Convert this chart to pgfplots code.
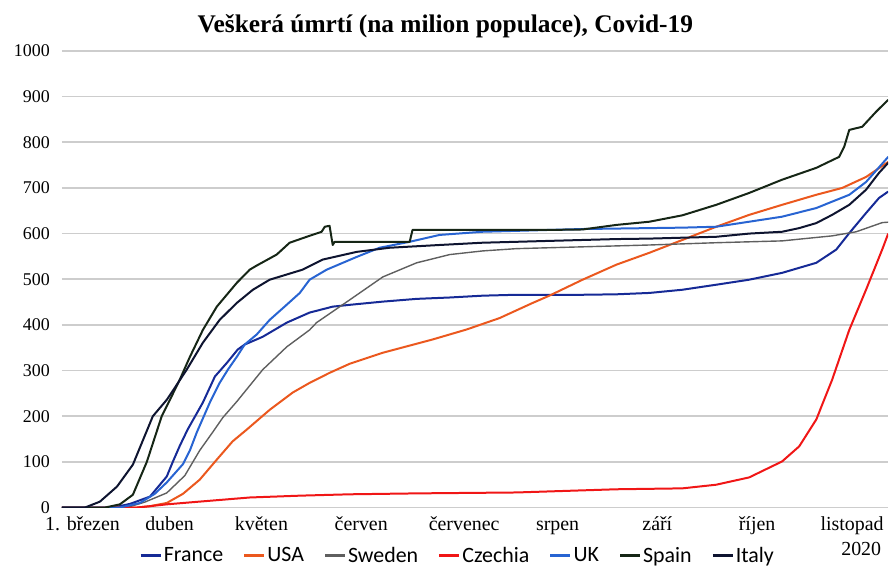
\documentclass[border=0pt]{standalone}
\usepackage{pgfplots}
\pgfplotsset{compat=1.18}
\usepackage{fontspec}
\setmainfont{Liberation Serif}
\newfontfamily\legfont{Carlito}
\definecolor{cFrance}{RGB}{22,42,150}
\definecolor{cUSA}{RGB}{235,88,30}
\definecolor{cSweden}{RGB}{95,95,95}
\definecolor{cCzechia}{RGB}{240,22,22}
\definecolor{cUK}{RGB}{40,100,210}
\definecolor{cSpain}{RGB}{22,38,22}
\definecolor{cItaly}{RGB}{14,20,48}
\definecolor{cGrid}{RGB}{205,205,205}
\begin{document}
\begin{tikzpicture}
\begin{axis}[name=ax,
  width=827bp, height=457bp, scale only axis,
  xmin=0, xmax=260.9, ymin=0, ymax=1000,
  clip mode=individual,
  axis line style={draw=none},
  major tick length=0pt,
  xtick pos=bottom, ytick pos=left,
  ytick={0,100,...,1000},
  xtick={6.5,34,63,94.5,127,156.5,188,219.5,249.5},
  xticklabels={1. březen,duben,květen,červen,červenec,srpen,září,říjen,listopad},
  ymajorgrids=true,
  grid style={draw=cGrid, line width=1.6bp},
  /pgf/number format/assume math mode=true,
  /pgf/number format/1000 sep={},
  yticklabel style={font=\fontsize{18}{20}\selectfont, xshift=-11bp, inner sep=1bp},
  xticklabel style={font=\fontsize{20}{22}\selectfont, anchor=north, yshift=-9bp, inner sep=1bp, text height=13bp, text depth=4bp},
  title={\textbf{Veškerá úmrtí (na milion populace), Covid-19}},
  title style={font=\fontsize{25.5}{28}\selectfont, at={(axis description cs:0.464,1)}, anchor=south, yshift=4bp},
  legend columns=7,
  legend style={draw=none, fill=none, font=\legfont\fontsize{22}{24}\selectfont,
    at={(axis description cs:0.479,-0.105)}, anchor=center,
    /tikz/every even column/.append style={column sep=18bp}},
  legend image code/.code={\draw[#1, line width=2.2bp] (0bp,0bp) -- (20bp,0bp);},
  every axis plot/.append style={line width=2bp, line join=round},
]
\addplot[cFrance] coordinates {(0,0) (16.1,0) (21.5,8) (27.8,24) (33.1,68) (35.0,100) (37.2,135) (39.7,171) (44.5,230) (48.3,287) (52.1,317) (55.5,346) (57.7,357) (63.4,374) (71.0,405) (78.2,427) (85.5,440) (90.9,444) (101.3,451) (112.0,457) (122.4,460) (132.8,464) (143.5,466) (153.9,466) (164.4,466) (175.1,467) (185.5,470) (195.9,477) (206.6,488) (217.0,499) (227.4,514) (238.2,536) (244.5,565) (248.6,601) (253.9,645) (258.0,678) (260.9,692)};
\addlegendentry{France}
\addplot[cUSA] coordinates {(0,0) (23.7,0) (27.8,3) (33.1,10) (38.2,30) (43.5,61) (48.9,105) (53.9,145) (58.4,171) (65.6,214) (72.9,252) (78.2,273) (84.5,295) (90.9,315) (101.3,339) (117.0,368) (127.8,390) (138.2,415) (148.6,448) (153.9,464) (164.4,499) (175.1,532) (185.5,558) (195.9,586) (206.6,615) (217.0,641) (227.4,663) (238.2,685) (246.4,700) (253.9,724) (260.9,757)};
\addlegendentry{USA}
\addplot[cSweden, line width=1.4bp] coordinates {(0,0) (20.5,0) (26.2,12) (33.1,32) (38.8,70) (43.5,125) (47.6,165) (50.8,197) (55.2,232) (63.4,302) (71.0,352) (78.2,389) (80.4,405) (90.9,455) (101.3,505) (112.0,536) (122.4,554) (132.8,562) (143.5,567) (153.9,569) (185.5,575) (206.6,580) (227.4,584) (243.2,595) (250.8,604) (259.0,624) (260.9,625)};
\addlegendentry{Sweden}
\addplot[cCzechia] coordinates {(0,0) (23.7,0) (27.8,3) (33.1,7) (43.5,13) (59.3,22) (75.1,26) (90.9,29) (112.0,31) (143.5,33) (175.1,40) (185.5,41) (195.9,42) (206.6,50) (217.0,66) (227.4,101) (232.8,134) (238.2,193) (243.2,280) (248.6,389) (253.9,477) (259.0,565) (260.9,600)};
\addlegendentry{Czechia}
\addplot[cUK] coordinates {(0,0) (18.3,0) (24.6,10) (29.3,30) (33.1,55) (38.2,95) (40.4,125) (42.6,165) (46.7,230) (49.8,273) (52.4,302) (55.2,330) (57.7,357) (61.5,379) (65.6,411) (70.3,440) (75.1,470) (78.2,499) (83.6,521) (93.1,549) (100.3,569) (109.8,582) (119.2,597) (132.8,604) (143.5,606) (153.9,608) (164.4,610) (175.1,611) (185.5,612) (195.9,613) (206.6,615) (217.0,626) (227.4,637) (238.2,656) (248.6,685) (253.9,713) (260.9,768)};
\addlegendentry{UK}
\addplot[cSpain] coordinates {(0,0) (13.6,0) (18.3,7) (22.4,28) (26.8,100) (31.5,200) (34.1,236) (37.2,280) (40.4,330) (44.5,389) (48.9,440) (55.2,492) (59.3,521) (61.5,530) (67.8,554) (71.9,580) (77.3,593) (82.0,604) (83.0,615) (84.5,617) (85.5,575) (86.1,582) (109.8,582) (110.7,608) (153.9,608) (164.4,609) (175.1,619) (185.5,626) (195.9,640) (206.6,663) (217.0,689) (227.4,718) (238.2,744) (245.4,768) (247.0,790) (248.6,827) (252.7,834) (257.1,867) (260.9,893)};
\addlegendentry{Spain}
\addplot[cItaly] coordinates {(0,0) (7.3,0) (12.0,13) (17.4,46) (22.4,94) (28.7,200) (33.1,236) (35.6,262) (39.4,302) (44.5,361) (49.8,411) (55.2,448) (60.3,477) (65.6,499) (76.0,521) (82.3,543) (93.1,560) (103.5,569) (119.2,575) (132.8,580) (143.5,582) (153.9,584) (164.4,586) (175.1,588) (185.5,589) (195.9,591) (206.6,593) (217.0,600) (227.4,604) (232.8,612) (238.2,623) (243.2,641) (248.6,663) (253.9,696) (258.0,733) (260.9,755)};
\addlegendentry{Italy}
\end{axis}
\node[font=\fontsize{20}{22}\selectfont, anchor=center] at ([xshift=-27bp,yshift=-41bp]ax.south east) {2020};
\path[use as bounding box] ([xshift=-62bp,yshift=-56bp]ax.south west) rectangle ([yshift=51bp]ax.north east);
\end{tikzpicture}
\end{document}
